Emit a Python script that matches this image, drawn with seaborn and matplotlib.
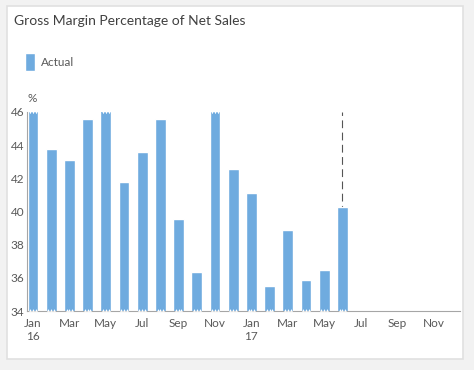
import pandas as pd
import numpy as np
import seaborn as sns
import matplotlib.pyplot as plt
from matplotlib.patches import FancyBboxPatch

# dados
meses = ["Jan", "Feb", "Mar", "Apr", "May", "Jun", "Jul", "Aug", "Sep", "Oct", "Nov", "Dec"] * 2
anos = ["16"] * 12 + ["17"] * 12
margem_real = [47.0, 43.75, 43.13, 45.56, 47.0, 41.8, 43.59, 45.6, 39.54, 36.36, 47.0, 42.57,
               41.14, 35.5, 38.86, 35.84, 36.45, 40.28]
y_min, y_max = 34, 46

df = pd.DataFrame({"mes": np.arange(len(margem_real)), "valor": margem_real})

sns.set_theme(style="white")
plt.rcParams["font.family"] = ["Lato", "DejaVu Sans"]

fig = plt.figure(figsize=(4.74, 3.70), dpi=100)
fig.patch.set_facecolor("#f2f2f2")

# cartão branco com sombra
card = FancyBboxPatch((7 / 474, 1 - 359 / 370), 456 / 474, 353 / 370,
                      boxstyle="square,pad=0", transform=fig.transFigure,
                      facecolor="white", edgecolor="#e0e0e0", linewidth=1.2, zorder=-10)
fig.patches.append(card)

ax = fig.add_axes([27 / 474, 1 - 311 / 370, 433 / 474, 199 / 370])
ax.set_facecolor("none")

cor = "#6fabdf"
sns.barplot(data=df, x="mes", y="valor", native_scale=True, color=cor,
            saturation=1, width=0.6, ax=ax, label="Actual", zorder=2)

# linha tracejada no último mês com dado real
ax.axvline(len(margem_real) - 1, color="#555555", lw=0.8, ls=(0, (7, 4)), zorder=1)

# marcas de corte (barras fora da escala)
for i, v in enumerate(margem_real):
    if v > y_max:
        ax.scatter([i - 0.15, i, i + 0.15], [y_max] * 3, marker="v", s=6,
                   color="white", zorder=3, clip_on=False, linewidths=0)
    ax.scatter([i - 0.15, i, i + 0.15], [y_min + 0.06] * 3, marker="^", s=4,
               color="white", zorder=3, clip_on=False, linewidths=0)

ax.set_ylim(y_min, y_max)
ax.set_xlim(-0.33, 23.46)
ax.set_yticks(range(34, 47, 2))
ticks = list(range(0, 24, 2))
ax.set_xticks(ticks)
ax.set_xticklabels([meses[i] + ("\n" + anos[i] if meses[i] == "Jan" else "") for i in ticks])
ax.tick_params(axis="both", length=0, labelsize=8.5, colors="#595959")
ax.tick_params(axis="x", pad=5)
ax.tick_params(axis="y", pad=2)
ax.set_xlabel("")
ax.set_ylabel("")

sns.despine(ax=ax)
for lado in ["left", "bottom"]:
    ax.spines[lado].set_color("#a6a6a6")
    ax.spines[lado].set_linewidth(0.8)

ax.text(-0.3, y_max + 0.5, "%", fontsize=8.5, color="#595959", ha="left", va="bottom")

fig.text(14 / 474, 1 - 21 / 370, "Gross Margin Percentage of Net Sales",
         fontsize=10, color="#404040", ha="left", va="center")

leg = ax.legend(loc="center left", bbox_to_anchor=(14 / 474, 1 - 62 / 370),
                bbox_transform=fig.transFigure, frameon=False, fontsize=8.5,
                handlelength=0.9, handleheight=2.0, handletextpad=0.5)
for t in leg.get_texts():
    t.set_color("#595959")

plt.savefig("out.png", dpi=100, facecolor=fig.get_facecolor())
